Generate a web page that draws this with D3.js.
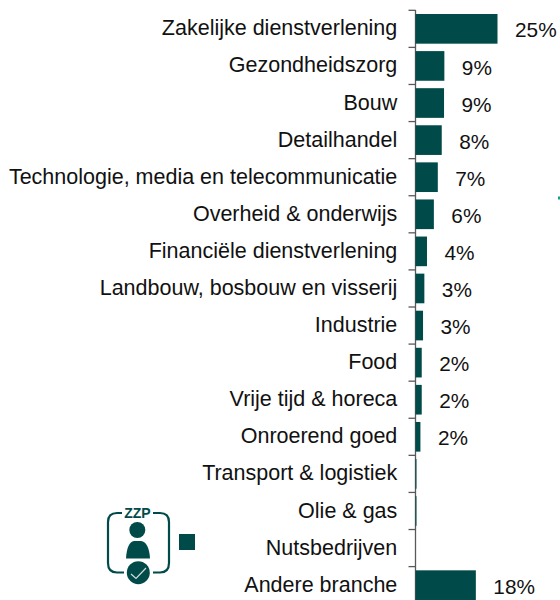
<!DOCTYPE html>
<html>
<head>
<meta charset="utf-8">
<script src="https://cdn.jsdelivr.net/npm/d3@7"></script>
<style>
  html, body { margin: 0; padding: 0; background: #fff; }
  svg { display: block; }
  text { font-family: "Liberation Sans", Arial, sans-serif; }
</style>
</head>
<body>
<div id="chart"></div>
<script>
const categories = [
  'Zakelijke dienstverlening', 'Gezondheidszorg', 'Bouw', 'Detailhandel',
  'Technologie, media en telecommunicatie', 'Overheid & onderwijs',
  'Financiële dienstverlening', 'Landbouw, bosbouw en visserij', 'Industrie',
  'Food', 'Vrije tijd & horeca', 'Onroerend goed', 'Transport & logistiek',
  'Olie & gas', 'Nutsbedrijven', 'Andere branche'
];
const values = [25, 8.8, 8.7, 8, 6.8, 5.6, 3.5, 2.7, 2.3, 1.9, 1.9, 1.5, 0.3, 0.3, 0, 18.4];
const valueLabels = ['25%', '9%', '9%', '8%', '7%', '6%', '4%', '3%', '3%', '2%', '2%', '2%', '', '', '', '18%'];

const width = 560;
const height = 600;
const green = '#004b49';

const x = d3.scaleLinear().domain([0, 25]).range([415.5, 497.5]);
const y = d3.scaleBand().domain(categories).range([10.3, 603.7]).paddingInner(0.2).paddingOuter(0.1);

const svg = d3.select('#chart').append('svg')
  .attr('width', width)
  .attr('height', height);

// Category axis, tick marks sit between the bars
const step = y.step();
const axis = svg.append('g').attr('stroke', '#595959').attr('stroke-width', 1.3);
axis.append('line')
  .attr('x1', x(0)).attr('x2', x(0))
  .attr('y1', 10).attr('y2', height);
axis.selectAll('.tick')
  .data(categories)
  .enter()
  .append('line')
  .attr('class', 'tick')
  .attr('x1', x(0) - 7).attr('x2', x(0))
  .attr('y1', d => y(d) - (step - y.bandwidth()) / 2)
  .attr('y2', d => y(d) - (step - y.bandwidth()) / 2);

svg.append('g').selectAll('rect')
  .data(categories)
  .enter()
  .append('rect')
  .attr('x', x(0))
  .attr('y', d => y(d))
  .attr('width', (d, i) => x(values[i]) - x(0))
  .attr('height', y.bandwidth())
  .attr('fill', green);

svg.append('g').selectAll('text')
  .data(categories)
  .enter()
  .append('text')
  .attr('x', 397.3)
  .attr('y', d => y(d) + y.bandwidth() / 2 - 1)
  .attr('dy', '0.35em')
  .attr('text-anchor', 'end')
  .attr('font-size', 21.5)
  .attr('fill', '#111')
  .text(d => d);

svg.append('g').selectAll('text')
  .data(categories)
  .enter()
  .append('text')
  .attr('x', (d, i) => x(values[i]) + 17.5)
  .attr('y', d => y(d) + y.bandwidth() / 2 + 1.3)
  .attr('dy', '0.35em')
  .attr('font-size', 20.8)
  .attr('fill', '#111')
  .text((d, i) => valueLabels[i]);

// Legend swatch and ZZP icon
const legend = svg.append('g');
legend.append('rect').attr('x', 179).attr('y', 534).attr('width', 16).attr('height', 16).attr('fill', green);
legend.append('path')
  .attr('d', 'M122 513H117Q108 513 108 522V563Q108 572.5 117 572.5H124M153 572.5H160Q169 572.5 169 563V522Q169 513 160 513H153')
  .attr('fill', 'none').attr('stroke', green).attr('stroke-width', 2.2);
legend.append('text').attr('x', 137.5).attr('y', 517.5).attr('text-anchor', 'middle')
  .attr('font-size', 14).attr('font-weight', 700).attr('fill', green).text('ZZP');
legend.append('circle').attr('cx', 137.3).attr('cy', 530).attr('r', 8).attr('fill', green);
legend.append('path')
  .attr('d', 'M126 558.5Q127 542 134 541H141Q149 542 150 558.5Z')
  .attr('fill', green);
legend.append('circle').attr('cx', 138.3).attr('cy', 572.7).attr('r', 11.5).attr('fill', green);
legend.append('path')
  .attr('d', 'M131 574L136 578.5L146 568')
  .attr('fill', 'none').attr('stroke', '#cfdedd').attr('stroke-width', 1.2);

// Cropped speck at the right edge of the picture
svg.append('rect').attr('x', 558).attr('y', 196.5).attr('width', 2).attr('height', 3).attr('fill', '#1f9a8c');
</script>
</body>
</html>
